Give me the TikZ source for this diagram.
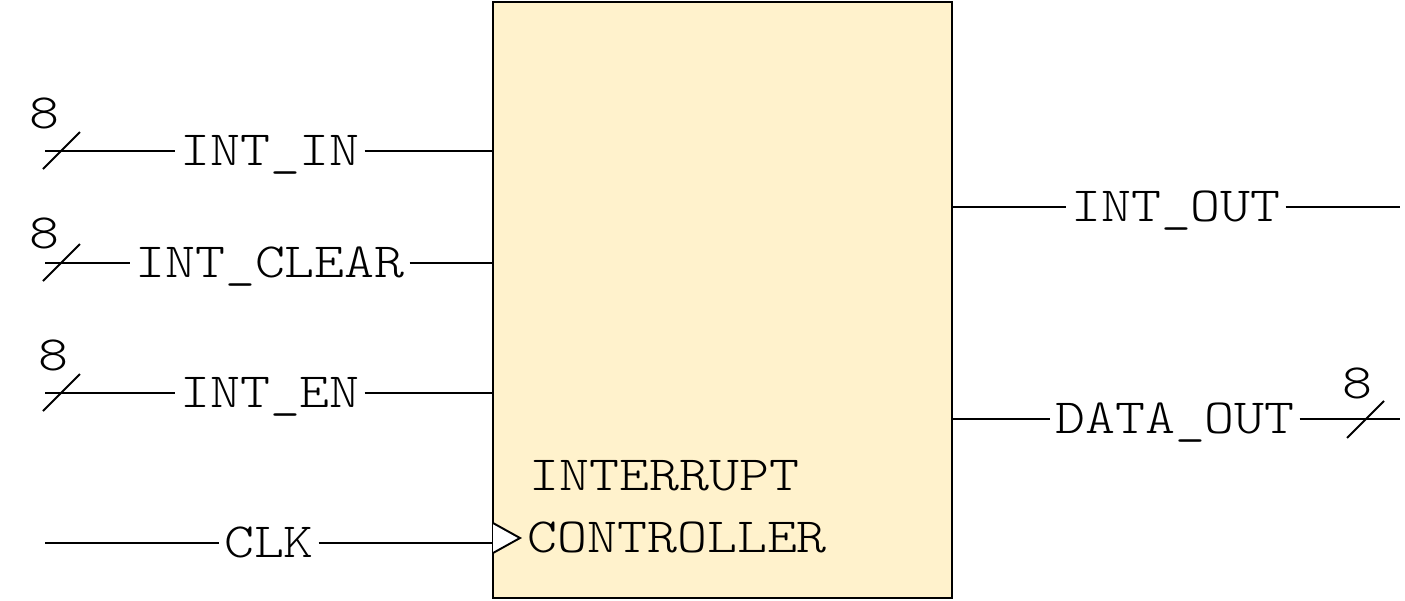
\documentclass[tikz,border=0pt]{standalone}
\usepackage{fontspec}
\setmonofont[FakeStretch=1.16]{Latin Modern Mono Light}
\usetikzlibrary{positioning, calc}
\definecolor{boxfill}{RGB}{255,242,204}

\begin{document}
\begin{tikzpicture}[x=0.02cm, y=-0.02cm, font=\ttfamily\fontsize{28}{34}\selectfont,
  wire/.style={draw=black, line width=1.1pt},
  sig/.style={inner sep=2.5pt, text height=17pt, text depth=0pt},
  width/.style={inner sep=0pt, text height=17pt, text depth=0pt},
  ctrlbox/.style={draw=black, line width=1.1pt, fill=boxfill, minimum width=9.18cm, minimum height=11.92cm, inner sep=0pt},
]
\useasboundingbox (0,0) rectangle (1405,600);
% ---------- controller ----------
\node[ctrlbox] (ctrl) at (722.5,300) {};
\node[anchor=west, inner sep=0pt] (title1) at (529,476) {INTERRUPT};
\node[anchor=west, inner sep=0pt] (title2) at (527,537) {CONTROLLER};
% ---------- 8-bit inputs ----------
\foreach \n/\y/\lab/\wx/\wy in {in/151/INT\_IN/44/114, clr/263/INT\_CLEAR/44/234, en/393/INT\_EN/53/356} {
  \coordinate (\n L) at (45,\y);
  \node[sig] (\n) at (270,\y) {\lab};
  \draw[wire] (\n L) -- (\n) -- (ctrl.west |- \n L);
  \draw[wire] ($(\n L)+(-2,18)$) -- ++(37,-37);   % bus slash
  \node[width] (\n W) at (\wx,\wy) {8};
}
% ---------- clock ----------
\coordinate (clkL) at (45,543);
\node[sig] (clk) at (269,543) {CLK};
\draw[wire] (clkL) -- (clk) -- (ctrl.west |- clkL);
\coordinate (clkT) at (493,523); \coordinate (clkB) at (493,553);
\draw[wire, fill=white, line join=miter] (clkT) -- (520,538) -- (clkB);
% ---------- outputs ----------
\coordinate (ioR) at (1400,207);
\node[sig] (io) at (1176,207) {INT\_OUT};
\draw[wire] (ctrl.east |- ioR) -- (io) -- (ioR);
\coordinate (doR) at (1400,419);
\node[sig] (do) at (1175,419) {DATA\_OUT};
\draw[wire] (ctrl.east |- doR) -- (do) -- (doR);
\draw[wire] (1347,438) -- ++(37,-37);            % bus slash
\node[width] (doW) at (1357,384) {8};
\end{tikzpicture}
\end{document}
